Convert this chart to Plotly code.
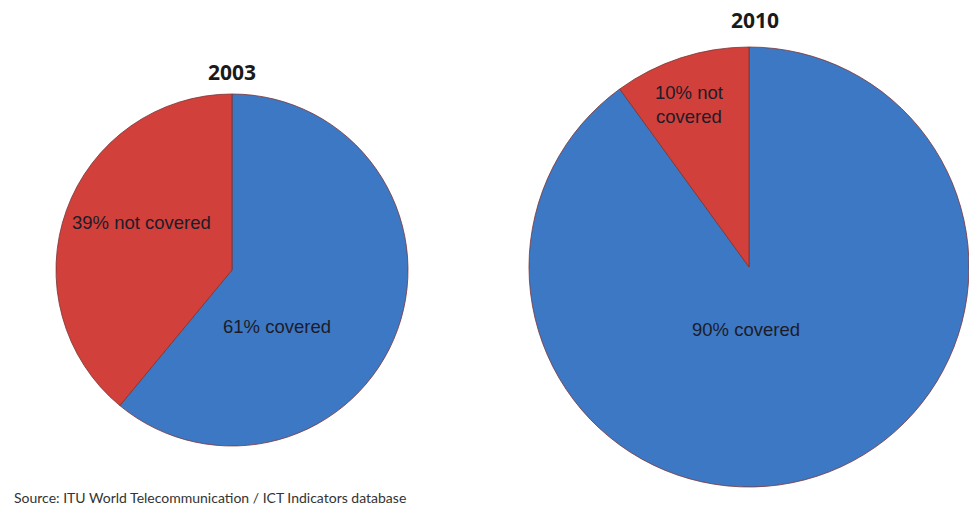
import plotly.graph_objects as go

# Mobile network coverage shares, by year
years = ["2003", "2010"]
covered = [61, 90]
not_covered = [39, 10]
slice_names = ["covered", "not covered"]
source_note = "Source: ITU World Telecommunication / ICT Indicators database"

W, H = 969, 506
blue = "#3D78C5"
red = "#D1403B"


def px_x(x):
    return x / W


def px_y(y):
    return 1 - y / H


# pie placement in pixels: (centre x, centre y, radius)
pies = [(232, 270, 176), (749, 267, 220)]

fig = go.Figure()
for yr, cov, nc, (cx, cy, r) in zip(years, covered, not_covered, pies):
    fig.add_trace(go.Pie(
        values=[cov, nc],
        labels=slice_names,
        sort=False,
        direction="clockwise",
        rotation=0,
        marker=dict(colors=[blue, red], line=dict(color="#7a3535", width=0.8)),
        textinfo="none",
        hoverinfo="label+percent",
        showlegend=False,
        domain=dict(x=[px_x(cx - r), min(1, px_x(cx + r))],
                    y=[px_y(cy + r), px_y(cy - r)]),
        name=yr,
    ))

text_font = dict(family="Liberation Sans, Arial", size=18.5, color="#1c1c28")
anns = []
# slice labels
label_pos = [
    ((277, 326), (141, 222)),
    ((746, 329), (689, 104)),
]
for cov, nc, (pc, pn) in zip(covered, not_covered, label_pos):
    anns.append(dict(x=px_x(pc[0]), y=px_y(pc[1]), text=f"{cov}% covered",
                     showarrow=False, font=text_font, xanchor="center", yanchor="middle"))
    nc_text = f"{nc}% not covered" if nc >= 20 else f"{nc}% not<br>covered"
    anns.append(dict(x=px_x(pn[0]), y=px_y(pn[1]), text=nc_text,
                     showarrow=False, font=text_font, xanchor="center", yanchor="middle"))

# year titles
for yr, (tx, ty) in zip(years, [(232, 72), (755, 20)]):
    anns.append(dict(x=px_x(tx), y=px_y(ty), text=f"<b>{yr}</b>", showarrow=False,
                     font=dict(family="Open Sans, Arial", size=21, color="#1a1a1a"),
                     xanchor="center", yanchor="middle"))

anns.append(dict(x=px_x(12), y=px_y(497), text=source_note, showarrow=False,
                 font=dict(family="Lato, Open Sans", size=14, color="#333333"),
                 xanchor="left", yanchor="middle"))

fig.update_layout(
    width=W, height=H,
    margin=dict(l=0, r=0, t=0, b=0),
    paper_bgcolor="white",
    plot_bgcolor="white",
    annotations=anns,
)

fig.write_html("out.html")
